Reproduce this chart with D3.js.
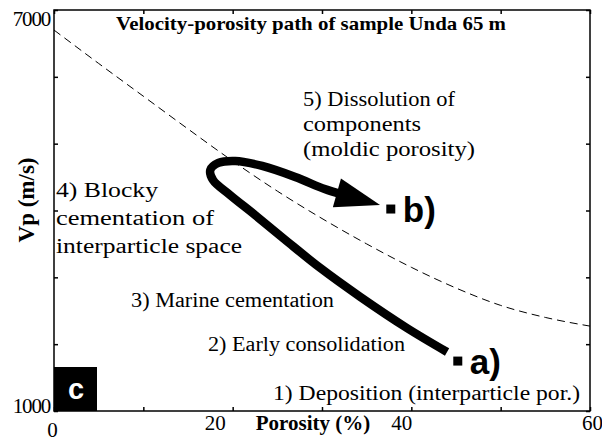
<!DOCTYPE html>
<html><head><meta charset="utf-8">
<script src="https://cdn.jsdelivr.net/npm/d3@7"></script>
<style>body{margin:0;background:#fff}svg{display:block}</style>
</head><body>
<script>
// ---- data ----
const titleText = "Velocity-porosity path of sample Unda 65 m";
const xAxisTitle = "Porosity (%)";
const yAxisTitle = "Vp (m/s)";
const xTickValues = [0, 10, 20, 30, 40, 50, 60];
const xLabelValues = [0, 20, 40, 60];
const yTickValues = [1000, 2000, 3000, 4000, 5000, 6000, 7000];
const yLabelValues = [1000, 7000];
// dashed reference trend
const curvePorosity = [0, 5, 10, 15, 20, 25, 30, 35, 40, 45, 50, 55, 60];
const curveVelocity = [6700, 6200, 5710, 5220, 4740, 4290, 3880, 3500, 3150, 2840, 2580, 2400, 2270];
// diagenetic path of the sample (a -> b)
const pathPorosity = [44.0, 39.5, 34.3, 29.8, 25.9, 22.5, 19.7, 17.8, 17.5, 18.4, 20.3, 23.3, 27.0, 30.3, 32.1];
const pathVelocity = [1883, 2242, 2706, 3140, 3559, 3933, 4232, 4456, 4606, 4711, 4741, 4666, 4501, 4322, 4247];
const arrowTipPorosity = 36.5;
const arrowTipVelocity = 4082;
// sample states
const sampleNames = ["a)", "b)"];
const samplePorosity = [45.2, 37.7];
const sampleVelocity = [1747, 4022];
// stage annotations
const stageLines = [
  ["5) Dissolution of", "components", "(moldic porosity)"],
  ["4) Blocky", "cementation of", "interparticle space"],
  ["3) Marine cementation"],
  ["2) Early consolidation"],
  ["1) Deposition (interparticle por.)"]
];
const panelLetter = "c";

// ---- layout ----
const W = 602, H = 445;
const L = 54, R = 590, T = 10, B = 411;
const serif = "'Liberation Serif','Times New Roman',serif";
const sans = "'Liberation Sans',Arial,sans-serif";

const svg = d3.select("body").append("svg").attr("width", W).attr("height", H);
const x = d3.scaleLinear().domain([0, 60]).range([L, R]);
const y = d3.scaleLinear().domain([1000, 7000]).range([B, T]);

// frame
svg.append("rect").attr("x", L).attr("y", T).attr("width", R - L).attr("height", B - T)
  .attr("fill", "none").attr("stroke", "#000").attr("stroke-width", 1.5);

// inward ticks on all four sides
const tickLen = 4;
const tickAxes = [
  [d3.axisBottom(x).tickValues(xTickValues), `translate(0,${B})`],
  [d3.axisTop(x).tickValues(xTickValues), `translate(0,${T})`],
  [d3.axisLeft(y).tickValues(yTickValues), `translate(${L},0)`],
  [d3.axisRight(y).tickValues(yTickValues), `translate(${R},0)`]
];
tickAxes.forEach(([ax, tr]) => {
  const g = svg.append("g").attr("transform", tr)
    .call(ax.tickSizeInner(-tickLen).tickSizeOuter(0).tickFormat(""));
  g.select(".domain").remove();
  g.selectAll("line").attr("stroke", "#000").attr("stroke-width", 1.5);
});

// x tick labels
const xLab = svg.append("g").attr("transform", `translate(0,${B})`)
  .call(d3.axisBottom(x).tickValues(xLabelValues).tickSize(0).tickPadding(0).tickFormat(d3.format("d")));
xLab.select(".domain").remove();
const xLabelShift = {0: [-2, 26], 20: [-18, 19], 40: [-10, 19], 60: [2, 19]};
xLab.selectAll("text").attr("font-family", serif).attr("font-size", 21).attr("fill", "#000")
  .attr("dy", null)
  .attr("y", d => xLabelShift[d][1]).attr("x", d => xLabelShift[d][0]);

// y tick labels
const yLab = svg.append("g").attr("transform", `translate(${L},0)`)
  .call(d3.axisLeft(y).tickValues(yLabelValues).tickSize(0).tickPadding(4).tickFormat(d3.format("d")));
yLab.select(".domain").remove();
yLab.selectAll("text").attr("font-family", serif).attr("font-size", 21).attr("fill", "#000")
  .attr("dy", d => d === 7000 ? "0.72em" : "0").attr("y", d => d === 7000 ? 0 : 1).attr("x", -4).attr("letter-spacing", -1.2);

// axis titles
svg.append("text").attr("x", 313).attr("y", 430).attr("text-anchor", "middle")
  .attr("font-family", serif).attr("font-weight", "bold").attr("font-size", 21).text(xAxisTitle);
svg.append("text").attr("transform", "translate(34,200) rotate(-90)").attr("text-anchor", "middle")
  .attr("font-family", serif).attr("font-weight", "bold").attr("font-size", 23).text(yAxisTitle);

// title
svg.append("text").attr("x", 116).attr("y", 30).attr("font-family", serif).attr("font-weight", "bold")
  .attr("font-size", 19).attr("textLength", 390).attr("lengthAdjust", "spacingAndGlyphs").text(titleText);

// dashed trend curve
const curveData = curvePorosity.map((p, i) => [p, curveVelocity[i]]);
svg.append("path").datum(curveData)
  .attr("d", d3.line().x(d => x(d[0])).y(d => y(d[1])).curve(d3.curveMonotoneX))
  .attr("fill", "none").attr("stroke", "#000").attr("stroke-width", 1).attr("stroke-dasharray", "8,5");

// thick diagenetic path
const pathData = pathPorosity.map((p, i) => [p, pathVelocity[i]]);
svg.append("path").datum(pathData)
  .attr("d", d3.line().x(d => x(d[0])).y(d => y(d[1])).curve(d3.curveCatmullRom.alpha(0.5)))
  .attr("fill", "none").attr("stroke", "#000").attr("stroke-width", 8.5);

// arrowhead from last path point to tip
{
  const bx = x(pathPorosity[pathPorosity.length - 1]), by = y(pathVelocity[pathVelocity.length - 1]);
  const tx = x(arrowTipPorosity), ty = y(arrowTipVelocity);
  const dx = tx - bx, dy = ty - by, len = Math.hypot(dx, dy);
  const nx = -dy / len, ny = dx / len, hw = 15;
  const b0x = bx - dx / len * 4, b0y = by - dy / len * 4;
  svg.append("path")
    .attr("d", `M${tx},${ty}L${b0x + nx * hw},${b0y + ny * hw}L${b0x - nx * hw},${b0y - ny * hw}Z`)
    .attr("fill", "#000");
}

// sample squares and labels
const sq = 9;
samplePorosity.forEach((p, i) => {
  svg.append("rect").attr("x", x(p) - sq / 2).attr("y", y(sampleVelocity[i]) - sq / 2)
    .attr("width", sq).attr("height", sq).attr("fill", "#000");
  svg.append("text").attr("x", x(p) + 12).attr("y", y(sampleVelocity[i]) + 13)
    .attr("font-family", sans).attr("font-weight", "bold").attr("font-size", 35).text(sampleNames[i]);
});

// stage annotations
const stagePos = [
  {x: 303, y: 106, dy: 25, w: [152, 118, 172]},
  {x: 56, y: 197, dy: 28, w: [102, 158, 186]},
  {x: 131, y: 307, dy: 0, w: [203]},
  {x: 208, y: 351, dy: 0, w: [197]},
  {x: 273, y: 400, dy: 0, w: [307]}
];
stageLines.forEach((lines, i) => {
  lines.forEach((s, j) => {
    svg.append("text").attr("x", stagePos[i].x).attr("y", stagePos[i].y + j * stagePos[i].dy)
      .attr("font-family", serif).attr("font-size", 20)
      .attr("textLength", stagePos[i].w[j]).attr("lengthAdjust", "spacingAndGlyphs").text(s);
  });
});

// panel letter box
svg.append("rect").attr("x", L).attr("y", 367).attr("width", 43).attr("height", B - 367).attr("fill", "#000");
svg.append("text").attr("x", L + 22).attr("y", 399).attr("text-anchor", "middle")
  .attr("font-family", sans).attr("font-weight", "bold").attr("font-size", 29).attr("fill", "#fff").text(panelLetter);
</script>
</body></html>
